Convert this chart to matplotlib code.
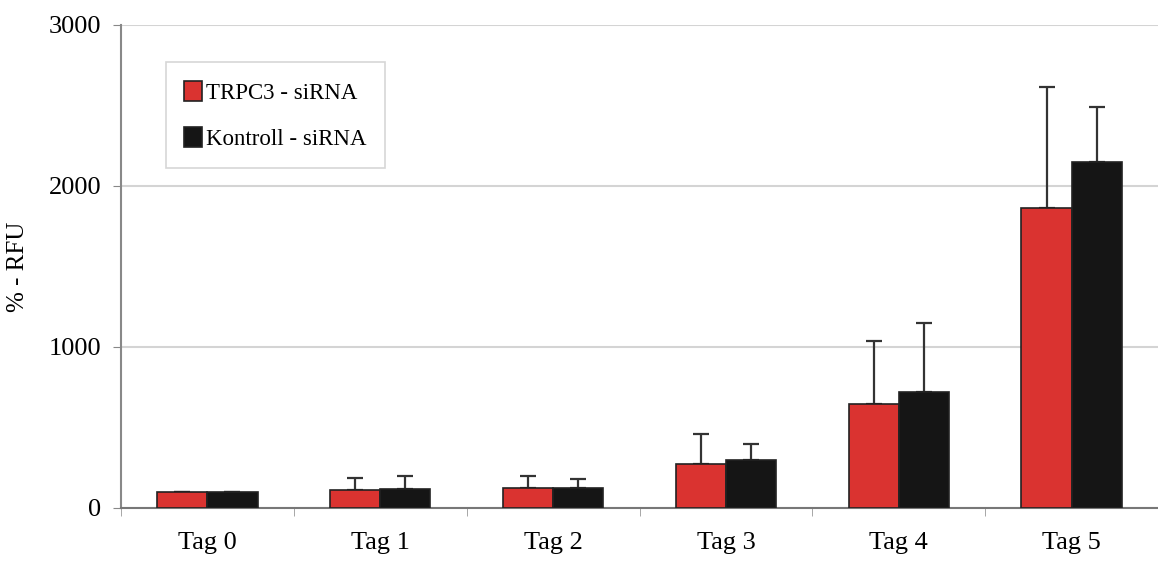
import numpy as np
import matplotlib.pyplot as plt

# Data
tage = ["Tag 0", "Tag 1", "Tag 2", "Tag 3", "Tag 4", "Tag 5"]
trpc3 = [100, 113, 126, 273, 644, 1862]
trpc3_err = [0, 73, 73, 185, 395, 755]
kontroll = [100, 116, 126, 300, 720, 2147]
kontroll_err = [0, 83, 52, 96, 431, 346]

plt.rcParams['font.family'] = ['Liberation Serif', 'DejaVu Serif']

fig = plt.figure(figsize=(11.58, 5.63), dpi=100)
ax = fig.add_axes([0.1045, 0.0977, 0.8955, 0.8579])

x = np.arange(len(tage))
w = 0.29
ax.bar(x - w / 2, trpc3, w, color="#da3330", edgecolor="#222222", linewidth=1.2,
       label="TRPC3 - siRNA", zorder=3)
ax.bar(x + w / 2, kontroll, w, color="#151515", edgecolor="#222222", linewidth=1.2,
       label="Kontroll - siRNA", zorder=3)
ax.errorbar(x - w / 2, trpc3, yerr=[np.zeros(len(x)), trpc3_err], fmt="none",
            ecolor="#333333", elinewidth=1.6, capsize=6, capthick=1.6, zorder=2)
ax.errorbar(x + w / 2, kontroll, yerr=[np.zeros(len(x)), kontroll_err], fmt="none",
            ecolor="#333333", elinewidth=1.6, capsize=6, capthick=1.6, zorder=2)

ax.set_xlim(-0.5, len(tage) - 0.5)
ax.set_ylim(0, 3000)
ax.set_yticks([0, 1000, 2000, 3000])
ax.set_xticks(x)
ax.set_xticklabels(tage)
ax.set_xticks(np.arange(-0.5, len(tage)), minor=True)
ax.tick_params(axis="x", which="major", length=0, pad=17, labelsize=19)
ax.tick_params(axis="x", which="minor", length=6, color="#999999", direction="out")
ax.tick_params(axis="y", length=6, color="#888888", labelsize=19, pad=8)
ax.yaxis.grid(True, color="#d4d4d4", linewidth=1.5, zorder=0)
ax.set_axisbelow(True)

for s in ["top", "right"]:
    ax.spines[s].set_visible(False)
ax.spines["left"].set_color("#888888")
ax.spines["left"].set_linewidth(1.5)
ax.spines["bottom"].set_color("#777777")
ax.spines["bottom"].set_linewidth(1.5)

ax.set_ylabel("% - RFU", fontsize=18, labelpad=14)

leg = ax.legend(loc="upper left", bbox_to_anchor=(0.043, 0.923), borderaxespad=0,
                fontsize=16.5, frameon=True, fancybox=False, handlelength=0.8,
                handleheight=1.0, handletextpad=0.15, labelspacing=1.0, borderpad=0.8)
leg.get_frame().set_edgecolor("#cccccc")
leg.get_frame().set_linewidth(1.2)

fig.savefig("out.png", dpi=100)
